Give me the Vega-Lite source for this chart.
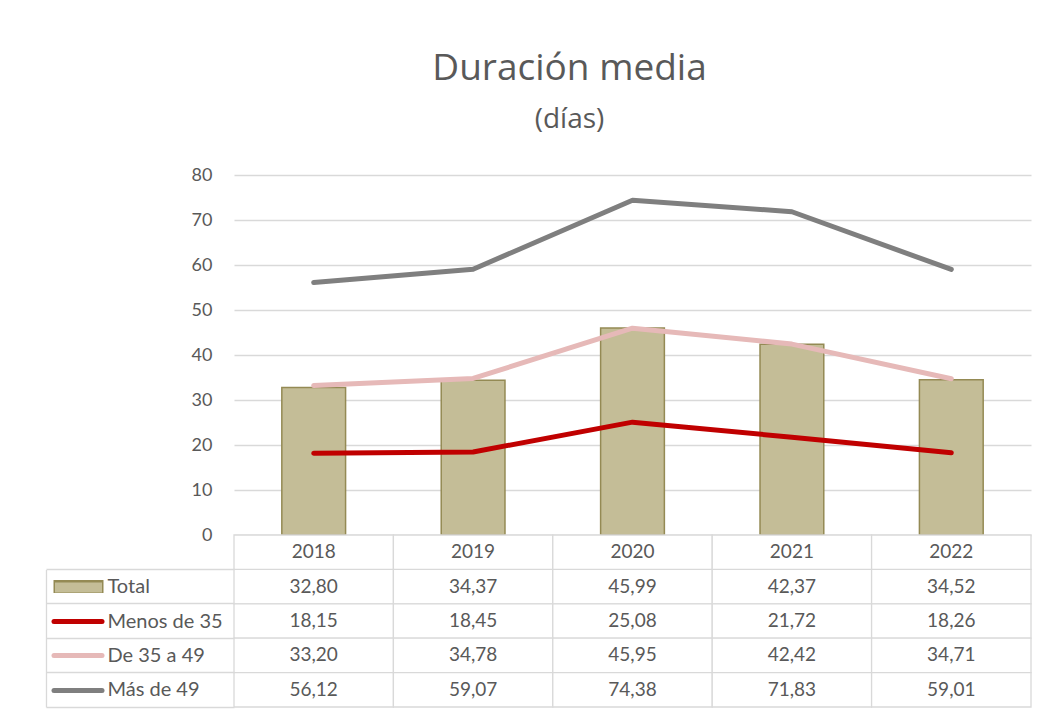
{
  "$schema": "https://vega.github.io/schema/vega-lite/v6.json",
  "padding": {"left": 45, "top": 50, "right": 10, "bottom": 10},
  "background": "white",
  "title": {
    "text": "Duración media",
    "subtitle": "(días)",
    "anchor": "middle",
    "frame": "bounds",
    "dx": 31,
    "font": "Open Sans",
    "fontSize": 37,
    "fontWeight": "normal",
    "color": "#595959",
    "subtitleFont": "Open Sans",
    "subtitleFontSize": 28,
    "subtitleColor": "#595959",
    "subtitlePadding": 18,
    "offset": 31
  },
  "datasets": {
    "d": [
      {"year": "2018", "serie": "Total", "value": 32.80},
      {"year": "2019", "serie": "Total", "value": 34.37},
      {"year": "2020", "serie": "Total", "value": 45.99},
      {"year": "2021", "serie": "Total", "value": 42.37},
      {"year": "2022", "serie": "Total", "value": 34.52},
      {"year": "2018", "serie": "Menos de 35", "value": 18.15},
      {"year": "2019", "serie": "Menos de 35", "value": 18.45},
      {"year": "2020", "serie": "Menos de 35", "value": 25.08},
      {"year": "2021", "serie": "Menos de 35", "value": 21.72},
      {"year": "2022", "serie": "Menos de 35", "value": 18.26},
      {"year": "2018", "serie": "De 35 a 49", "value": 33.20},
      {"year": "2019", "serie": "De 35 a 49", "value": 34.78},
      {"year": "2020", "serie": "De 35 a 49", "value": 45.95},
      {"year": "2021", "serie": "De 35 a 49", "value": 42.42},
      {"year": "2022", "serie": "De 35 a 49", "value": 34.71},
      {"year": "2018", "serie": "Más de 49", "value": 56.12},
      {"year": "2019", "serie": "Más de 49", "value": 59.07},
      {"year": "2020", "serie": "Más de 49", "value": 74.38},
      {"year": "2021", "serie": "Más de 49", "value": 71.83},
      {"year": "2022", "serie": "Más de 49", "value": 59.01}
    ]
  },
  "spacing": 0,
  "bounds": "flush",
  "resolve": {
    "scale": {"x": "independent", "y": "independent", "color": "independent"}
  },
  "vconcat": [
    {
      "width": 797,
      "height": 360,
      "data": {"name": "d"},
      "encoding": {
        "x": {"field": "year", "type": "nominal", "scale": {"paddingInner": 0.6, "paddingOuter": 0.3}, "axis": null}
      },
      "layer": [
        {
          "transform": [{"filter": "datum.serie === 'Total'"}],
          "mark": {"type": "bar", "stroke": "#948a54", "strokeWidth": 1.5},
          "encoding": {
            "y": {
              "field": "value", "type": "quantitative",
              "scale": {"domain": [0, 80], "nice": false},
              "axis": {
                "values": [0, 10, 20, 30, 40, 50, 60, 70, 80],
                "title": null, "domain": false, "ticks": false,
                "labelPadding": 22, "labelFont": "Lato", "labelFontSize": 18,
                "labelColor": "#595959", "grid": true, "gridColor": "#d9d9d9", "gridWidth": 1.3
              }
            },
            "color": {
              "field": "serie", "type": "nominal",
              "scale": {
                "domain": ["Total", "Menos de 35", "De 35 a 49", "Más de 49"],
                "range": ["#c4bd97", "#c00000", "#e6b9b8", "#7f7f7f"]
              },
              "legend": null
            }
          }
        },
        {
          "transform": [{"filter": "datum.serie !== 'Total'"}],
          "mark": {"type": "line", "strokeWidth": 5, "strokeCap": "round", "strokeJoin": "round"},
          "encoding": {
            "y": {"field": "value", "type": "quantitative"},
            "color": {"field": "serie", "type": "nominal", "legend": null}
          }
        }
      ]
    },
    {
      "width": 797,
      "height": 172,
      "data": {"name": "d"},
      "encoding": {
        "x": {"field": "year", "type": "nominal", "scale": {"paddingInner": 0, "paddingOuter": 0}, "axis": null}
      },
      "resolve": {"scale": {"y": "independent"}, "axis": {"y": "independent"}},
      "layer": [
        {
          "mark": {"type": "rect", "fill": "white", "stroke": "#d9d9d9", "strokeWidth": 1.3},
          "encoding": {
            "y": {
              "field": "serie", "type": "nominal",
              "scale": {"domain": ["Año", "Total", "Menos de 35", "De 35 a 49", "Más de 49"], "paddingInner": 0, "paddingOuter": 0},
              "axis": {
                "orient": "left", "offset": 188, "labels": false, "title": null, "grid": false,
                "ticks": true, "tickSize": -188, "bandPosition": 1,
                "tickColor": "#d9d9d9", "tickWidth": 1.3,
                "domain": true, "domainColor": "#d9d9d9", "domainWidth": 1.3, "domainDash": [0, 34.4, 200]
              }
            }
          }
        },
        {
          "mark": {"type": "text", "font": "Lato", "fontSize": 19, "color": "#595959"},
          "encoding": {
            "y": {
              "field": "serie", "type": "nominal",
              "scale": {"domain": ["Año", "Total", "Menos de 35", "De 35 a 49", "Más de 49"], "paddingInner": 0, "paddingOuter": 0},
              "axis": {
                "orient": "left", "offset": 132.5, "title": null, "grid": false, "domain": false,
                "ticks": true, "tickSize": 48, "bandPosition": 0.5, "tickWidth": 5, "tickCap": "round",
                "tickColor": {"condition": [
                  {"test": "datum.value === 'Menos de 35'", "value": "#c00000"},
                  {"test": "datum.value === 'De 35 a 49'", "value": "#e6b9b8"},
                  {"test": "datum.value === 'Más de 49'", "value": "#7f7f7f"}
                ], "value": "transparent"},
                "labels": true, "labelAlign": "left", "labelBaseline": "middle", "labelPadding": -53.5,
                "labelExpr": "datum.value === 'Año' ? '' : datum.value",
                "labelFont": "Lato", "labelFontSize": 20, "labelColor": "#595959", "labelLimit": 200
              }
            },
            "text": {"field": "value", "type": "quantitative", "format": ",.2f"}
          }
        },
        {
          "transform": [{"filter": "datum.serie === 'Total'"}],
          "mark": {"type": "rect", "fill": "white", "stroke": "#d9d9d9", "strokeWidth": 1.3},
          "encoding": {
            "y": {
              "datum": "Año", "type": "nominal",
              "scale": {"domain": ["Año", "Total", "Menos de 35", "De 35 a 49", "Más de 49"], "paddingInner": 0, "paddingOuter": 0},
              "axis": {
                "orient": "left", "offset": 131, "title": null, "grid": false, "domain": false, "labels": false,
                "ticks": true, "tickSize": 50, "bandPosition": 0.5, "tickWidth": 13, "tickCap": "butt", "zindex": 1,
                "tickColor": {"condition": {"test": "datum.value === 'Total'", "value": "#948a54"}, "value": "transparent"}
              }
            }
          }
        },
        {
          "transform": [{"filter": "datum.serie === 'Total'"}],
          "mark": {"type": "text", "font": "Lato", "fontSize": 19, "color": "#595959"},
          "encoding": {
            "y": {
              "datum": "Año", "type": "nominal",
              "scale": {"domain": ["Año", "Total", "Menos de 35", "De 35 a 49", "Más de 49"], "paddingInner": 0, "paddingOuter": 0},
              "axis": {
                "orient": "left", "offset": 132.5, "title": null, "grid": false, "domain": false, "labels": false,
                "ticks": true, "tickSize": 47, "bandPosition": 0.5, "tickWidth": 10, "tickCap": "butt", "zindex": 2,
                "tickColor": {"condition": {"test": "datum.value === 'Total'", "value": "#c4bd97"}, "value": "transparent"}
              }
            },
            "text": {"field": "year", "type": "nominal"}
          }
        }
      ]
    }
  ],
  "config": {
    "view": {"stroke": null},
    "locale": {
      "number": {"decimal": ",", "thousands": ".", "grouping": [3], "currency": ["", " €"]}
    }
  }
}
